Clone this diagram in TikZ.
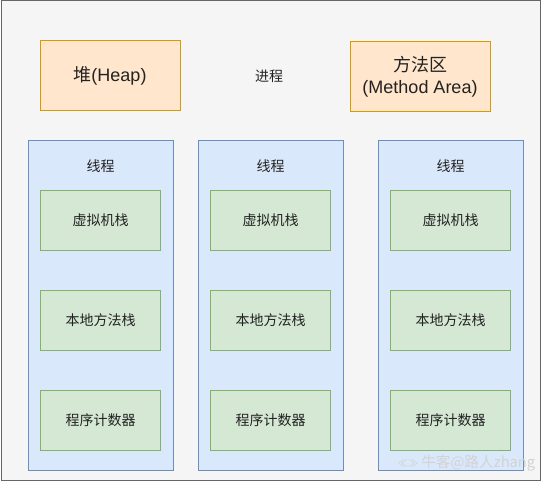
\documentclass[tikz,border=0pt]{standalone}
\usepackage{fontspec}
\setmainfont{Liberation Sans}
\newfontfamily\cjk{Noto Sans CJK SC}
\definecolor{bgc}{HTML}{F5F5F5}
\definecolor{bdc}{HTML}{666666}
\definecolor{orf}{HTML}{FFE6CC}
\definecolor{ors}{HTML}{D79B00}
\definecolor{blf}{HTML}{DAE8FC}
\definecolor{bls}{HTML}{6C8EBF}
\definecolor{grf}{HTML}{D5E8D4}
\definecolor{grs}{HTML}{82B366}
\definecolor{txc}{HTML}{222222}
\begin{document}
\begin{tikzpicture}[x=0.75pt,y=-0.75pt,
  orbox/.style={draw=ors,fill=orf,line width=0.75pt,minimum width=105pt,minimum height=52.5pt,inner sep=0pt,align=center,font=\fontsize{13.5}{16.5}\selectfont,text=txc},
  thr/.style={draw=bls,fill=blf,line width=0.75pt,minimum width=108.75pt,minimum height=247.5pt,inner sep=0pt},
  grbox/.style={draw=grs,fill=grf,line width=0.75pt,minimum width=90pt,minimum height=45pt,inner sep=0pt,font=\cjk\fontsize{10.5}{12}\selectfont,text=txc},
  lbl/.style={font=\cjk\fontsize{10.5}{12}\selectfont,text=txc,inner sep=0pt}]
\useasboundingbox (0,0) rectangle (541,481);
\draw[draw=bdc,fill=bgc,line width=0.75pt] (1,1) rectangle (540,480);
\node[orbox] (heap) at (110,76) {{\cjk 堆}(Heap)};
\node[orbox] (meth) at (420,77) {{\cjk 方法区}\\(Method Area)};
\node[lbl] (proc) at (269,76) {进程};
\foreach \n/\cx in {a/100.5,b/270.5,c/450.5}{
  \node[thr] (t\n) at (\cx,305) {};
  \node[lbl] (l\n) at (\cx,166) {线程};
  \node[grbox] (v\n) at (\cx,220) {虚拟机栈};
  \node[grbox] (m\n) at (\cx,320) {本地方法栈};
  \node[grbox] (p\n) at (\cx,420) {程序计数器};
}
\node[font=\cjk\fontsize{11}{13}\selectfont,text=white!65!gray,inner sep=0pt,anchor=west] (wm) at (421,463) {牛客@路人zhang};
\node[font=\cjk\fontsize{8}{10}\selectfont,text=white!65!gray,inner sep=0pt] (logo) at (408,463) {≪≫};
\end{tikzpicture}
\end{document}
